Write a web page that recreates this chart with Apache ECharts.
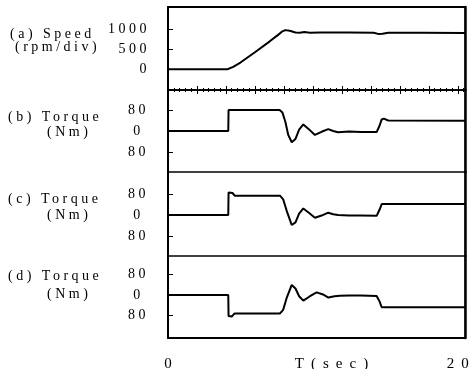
<!DOCTYPE html>
<html>
<head>
<meta charset="utf-8">
<script src="https://cdn.jsdelivr.net/npm/echarts@6/dist/echarts.min.js"></script>
<style>
html,body{margin:0;padding:0;background:#fff;}
#chart{width:474px;height:369px;}
</style>
</head>
<body>
<div id="chart"></div>
<script>
// ---- data ----
var speedT = [0, 4.1, 4.5, 5.0, 6.0, 7.0, 7.6, 7.9, 8.1, 8.4, 8.8, 9.1, 9.4, 9.8, 10.5, 12.5, 14.2, 14.5, 14.8, 15.2, 17.5, 20.5];
var speedV = [0, 0, 60, 170, 430, 700, 870, 960, 990, 975, 930, 925, 940, 925, 930, 928, 925, 895, 900, 925, 922, 918];

var torqueBT = [0, 4.16, 4.18, 7.7, 7.9, 8.1, 8.3, 8.54, 8.8, 9.05, 9.34, 9.7, 10.14, 10.6, 11.06, 11.4, 11.74, 12.5, 13.3, 14.4, 14.6, 14.75, 14.9, 15.2, 20.5];
var torqueBV = [0, 0, 80, 80, 70, 35, -15, -43, -30, 5, 25, 8, -15, -3, 7, 0, -5, -2, -4, -4, 20, 44, 47, 40, 39];

var torqueCT = [0, 4.16, 4.18, 4.45, 4.6, 7.73, 7.95, 8.2, 8.54, 8.8, 9.05, 9.34, 9.7, 10.14, 10.6, 11.06, 11.4, 11.74, 12.5, 13.3, 14.4, 14.6, 14.75, 20.5];
var torqueCV = [0, 0, 86, 84, 74, 74, 60, 15, -38, -28, 5, 25, 10, -10, -2, 9, 3, 0, -2, -2, -3, 20, 42, 42];

var torqueDT = [0, 4.16, 4.18, 4.4, 4.6, 7.73, 7.95, 8.2, 8.54, 8.8, 9.05, 9.34, 9.8, 10.26, 10.7, 11.07, 11.5, 11.86, 12.5, 13.3, 14.4, 14.6, 14.75, 20.5];
var torqueDV = [0, 0, -82, -84, -72, -72, -58, -10, 39, 25, -5, -22, -5, 10, 2, -10, -5, -3, -2, -2, -4, -25, -48, -48];

var speedTicks = [0, 500, 1000];
var torqueTicks = [-80, 0, 80];
var timeTicks = [0, 20];

var panelTitles = ['(a) Speed', '(b) Torque', '(c) Torque', '(d) Torque'];
var panelUnits = ['(rpm/div)', '(Nm)', '(Nm)', '(Nm)'];
var timeName = 'T(sec)';

// ---- letter-spaced text, like the typeset original ----
(function () {
  var P = CanvasRenderingContext2D.prototype;
  if (!('letterSpacing' in P)) return;
  function ls(font) {
    var m = /(\d+(?:\.\d+)?)px/.exec(font || '');
    var s = m ? parseFloat(m[1]) : 12;
    return s >= 15 ? '7px' : '3.5px';
  }
  var ft = P.fillText, mt = P.measureText;
  P.fillText = function () { this.letterSpacing = ls(this.font); return ft.apply(this, arguments); };
  P.measureText = function () { this.letterSpacing = ls(this.font); return mt.apply(this, arguments); };
})();

function zip(a, b) { return a.map(function (t, i) { return [t, b[i]]; }); }

var FONT = 'Liberation Serif';
var BLACK = '#000';
var X0 = 168, XR = 474 - 465;
var grids = [
  { top: 7, height: 83 },
  { top: 90, height: 82 },
  { top: 172, height: 84 },
  { top: 256, height: 82 }
];

function xAxisBase(gi, pos) {
  return {
    type: 'value', gridIndex: gi, position: pos, min: 0, max: 20.5,
    axisLine: { show: false }, axisTick: { show: false }, axisLabel: { show: false },
    splitLine: { show: false }, minorTick: { show: false }
  };
}
function rulerAxis(gi, pos) {
  var a = xAxisBase(gi, pos);
  a.interval = 2;
  a.axisLine = { show: true, onZero: false, lineStyle: { color: BLACK, width: 1.5 } };
  a.axisTick = { show: true, inside: true, length: 4, lineStyle: { color: BLACK, width: 1 } };
  a.minorTick = { show: true, splitNumber: 5, length: 2, lineStyle: { color: BLACK, width: 1 } };
  return a;
}
var xTop = xAxisBase(0, 'top');
xTop.axisLine = { show: true, onZero: false, lineStyle: { color: BLACK, width: 2 } };
var xBottom = xAxisBase(3, 'bottom');
xBottom.axisLine = { show: true, onZero: false, lineStyle: { color: BLACK, width: 2 } };
xBottom.axisLabel = {
  show: true, customValues: timeTicks, color: BLACK, fontFamily: FONT, fontSize: 15,
  margin: 15, padding: [0, 0, 0, 7], hideOverlap: false
};
xBottom.name = timeName;
xBottom.nameLocation = 'middle';
xBottom.nameGap = 15;
xBottom.nameMoveOverlap = false;
xBottom.nameTextStyle = { color: BLACK, fontFamily: FONT, fontSize: 15, padding: [0, 0, 0, 37] };

function leftY(gi, min, max, vals, tickVals, align, margin) {
  return {
    type: 'value', gridIndex: gi, position: 'left', min: min, max: max,
    axisLine: { show: true, onZero: false, lineStyle: { color: BLACK, width: 2 } },
    axisTick: { show: true, inside: true, length: 5, customValues: tickVals, lineStyle: { color: BLACK, width: 1 } },
    axisLabel: {
      show: true, customValues: vals, align: align, margin: margin, hideOverlap: false,
      color: BLACK, fontFamily: FONT, fontSize: 14,
      formatter: function (v) { return String(Math.abs(v)); }
    },
    splitLine: { show: false }
  };
}
function rightY(gi, min, max) {
  return {
    type: 'value', gridIndex: gi, position: 'right', min: min, max: max,
    axisLine: { show: true, onZero: false, lineStyle: { color: BLACK, width: 2.5 } },
    axisTick: { show: false }, axisLabel: { show: false }, splitLine: { show: false }
  };
}

var yRanges = [[-525, 1575], [-156, 156], [-156, 164], [-168, 152]];

var yAxes = [
  leftY(0, yRanges[0][0], yRanges[0][1], speedTicks, [500, 1000], 'right', 18),
  leftY(1, yRanges[1][0], yRanges[1][1], torqueTicks, [-80, 80], 'center', 29.5),
  leftY(2, yRanges[2][0], yRanges[2][1], torqueTicks, [-80, 80], 'center', 29.5),
  leftY(3, yRanges[3][0], yRanges[3][1], torqueTicks, [-80, 80], 'center', 29.5)
];
for (var i = 0; i < 4; i++) yAxes.push(rightY(i, yRanges[i][0], yRanges[i][1]));

function lineSeries(xi, yi, data) {
  return {
    type: 'line', xAxisIndex: xi, yAxisIndex: yi, data: data,
    showSymbol: false, symbol: 'none', smooth: false,
    lineStyle: { color: BLACK, width: 2 }, animation: false, silent: true
  };
}

var titleY = [[34, 47], [117, 132], [199, 215], [276, 294]];
var titleX = [[10, 15], [8, 47], [8, 47], [8, 47]];
var graphics = [];
for (var k = 0; k < 4; k++) {
  graphics.push({ type: 'text', x: titleX[k][0], y: titleY[k][0],
    style: { text: panelTitles[k], fill: BLACK, font: '14px "' + FONT + '"', textVerticalAlign: 'middle', textAlign: 'left' } });
  graphics.push({ type: 'text', x: titleX[k][1], y: titleY[k][1],
    style: { text: panelUnits[k], fill: BLACK, font: '14px "' + FONT + '"', textVerticalAlign: 'middle', textAlign: 'left' } });
}

var chart = echarts.init(document.getElementById('chart'), null, { renderer: 'canvas' });
chart.setOption({
  animation: false,
  grid: grids.map(function (g) {
    return { left: X0, right: XR, top: g.top, height: g.height, show: true,
      borderColor: BLACK, borderWidth: 1, backgroundColor: 'transparent',
      containLabel: false, outerBoundsMode: 'none' };
  }),
  xAxis: [rulerAxis(0, 'bottom'), xTop, rulerAxis(1, 'top'), xAxisBase(2, 'bottom'), xBottom],
  yAxis: yAxes,
  series: [
    lineSeries(0, 0, zip(speedT, speedV)),
    lineSeries(2, 1, zip(torqueBT, torqueBV)),
    lineSeries(3, 2, zip(torqueCT, torqueCV)),
    lineSeries(4, 3, zip(torqueDT, torqueDV))
  ],
  graphic: graphics
});
// paint everything now, in one pass (no time-sliced painting)
try {
  var zr = chart.getZr();
  zr.refreshImmediately();
  if (zr.painter && zr.painter.refresh) zr.painter.refresh(true);
} catch (e) {}
</script>
</body>
</html>
